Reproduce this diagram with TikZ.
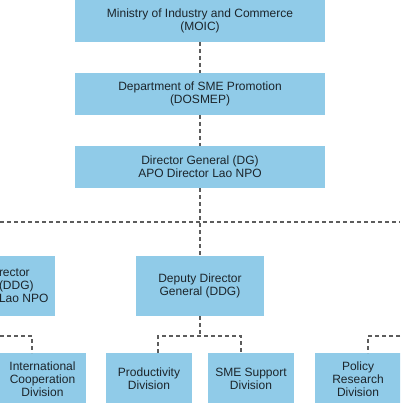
\documentclass[tikz,border=0pt]{standalone}
\usepackage{fontspec}
\setmainfont{Liberation Sans}
\usetikzlibrary{positioning}
\definecolor{orgBlue}{HTML}{90CBE8}
\definecolor{orgGray}{HTML}{5C5C5C}
\definecolor{orgText}{HTML}{1C252B}
\tikzset{
  org chart/.style={
    x=1pt, y=-1pt,
    every node/.style={font=\fontsize{12}{13}\selectfont,
      text=orgText, inner sep=0pt, outer sep=0pt}
  },
  org box/.style={fill=orgBlue, align=center,
    minimum width=250pt, minimum height=42pt},
  org unit/.style={org box, minimum width=128pt, minimum height=60pt},
  org division/.style={org box, minimum width=86pt, minimum height=52pt},
  org link/.style={draw=orgGray, line width=1.7pt,
    dash pattern=on 4pt off 3pt}
}

\begin{document}
\begin{tikzpicture}[org chart]
    \useasboundingbox (0,0) rectangle (400,403);
    \clip (0,0) rectangle (400,403);
    % top of the chain
    \node[org box] (moic) at (200,21) {Ministry of Industry and Commerce\\(MOIC)};
    \node[org box] (dosmep) at (200,94) {Department of SME Promotion\\(DOSMEP)};
    \node[org box] (dg) at (200,167) {Director General (DG)\\APO Director Lao NPO};
    % deputies
    \node[org unit] (ddgl) at (-9,286) {};
    \node[anchor=west, align=left] (ddgltext) at (-1,286) {rector\\(DDG)\\Lao NPO};
    \node[org unit] (ddg) at (200,286) {Deputy Director\\General (DDG)};
    % divisions
    \node[org division] (intl) at (42.5,379) {International\\Cooperation\\Division};
    \node[org division] (prod) at (149,379) {Productivity\\Division};
    \node[org division] (sme) at (251,379) {SME Support\\Division};
    \node[org division] (policy) at (358,379) {Policy\\Research\\Division};
    % bus and tap points
    \coordinate (busw) at (0,222);
    \coordinate (buse) at (400,222);
    \coordinate (ddgj) at (200,336);
    \coordinate (prodtap) at (158,353);
    \coordinate (smetap) at (241,353);
    \coordinate (intlbus) at (0,336);
    \coordinate (intltap) at (32,353);
    \coordinate (policybus) at (400,336);
    \coordinate (policytap) at (368,353);
    % links
    \draw[org link] (moic.south) -- (dosmep.north);
    \draw[org link] (dosmep.south) -- (dg.north);
    \draw[org link] (dg.south) -- (ddg.north);
    \draw[org link] (busw) -- (buse);
    \draw[org link] (ddg.south) -- (ddgj);
    \draw[org link] (prodtap) |- (ddgj) -| (smetap);
    \draw[org link] (intlbus) -| (intltap);
    \draw[org link] (policybus) -| (policytap);
\end{tikzpicture}
\end{document}
